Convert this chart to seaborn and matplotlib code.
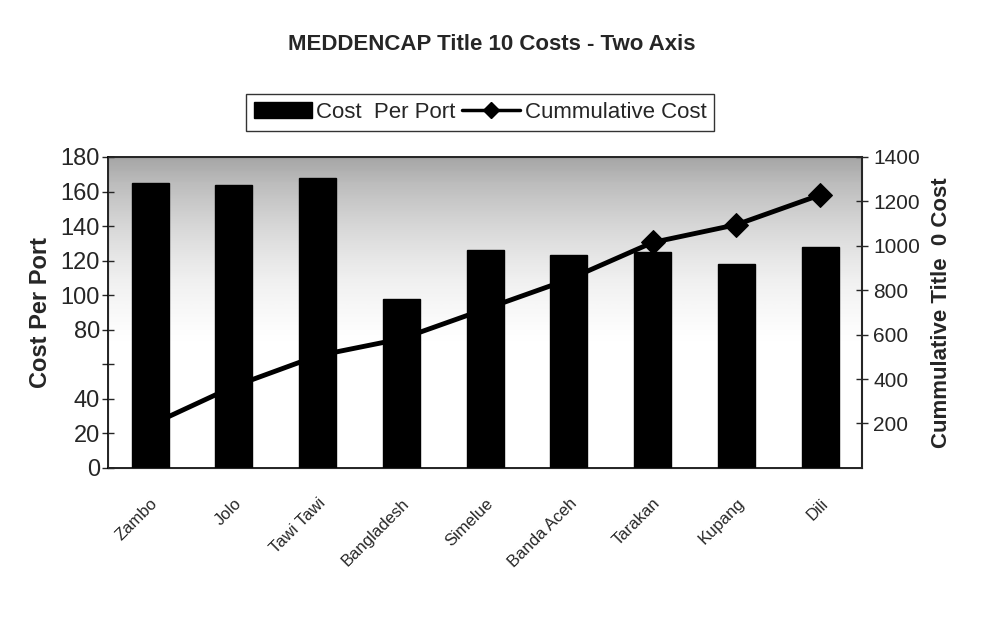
import numpy as np
import pandas as pd
import matplotlib
matplotlib.use('Agg')
import matplotlib.pyplot as plt
from matplotlib.patches import Patch
from matplotlib.lines import Line2D
import seaborn as sns

# Data
ports = ['Zambo', 'Jolo', 'Tawi Tawi', 'Bangladesh', 'Simelue',
         'Banda Aceh', 'Tarakan', 'Kupang', 'Dili']
cost_per_port = [165, 164, 168, 98, 126, 123, 125, 118, 128]
cumulative_cost = [192, 367, 505, 581, 715, 849, 1015, 1095, 1229]

left_ticks = [0, 20, 40, 60, 80, 100, 120, 140, 160, 180]
left_labels = ['0', '20', '40', '', '80', '100', '120', '140', '160', '180']
right_ticks = [200, 400, 600, 800, 1000, 1200, 1400]

df = pd.DataFrame({'Port': ports, 'Cost': cost_per_port, 'Cum': cumulative_cost})

sns.set_style('white')
plt.rcParams['font.family'] = ['Liberation Sans', 'DejaVu Sans']

fig = plt.figure(figsize=(9.84, 6.18), dpi=100)
ax = fig.add_axes([0.110, 0.243, 0.766, 0.503])

# speckled shading at the top of the plot area (drawn as a smooth gradient)
grad = np.linspace(1, 0, 200)[:, None]
grad = np.clip((grad - 0.4) / 0.6, 0, 1) ** 1.2 * 0.45
ax.imshow(grad, cmap='Greys', vmin=0, vmax=1, aspect='auto',
          extent=(-0.5, 8.5, 0, 180), zorder=0, interpolation='bilinear')

sns.barplot(data=df, x='Port', y='Cost', color='black', width=0.44,
            saturation=1, edgecolor='black', ax=ax, zorder=2)
ax.set_xlim(-0.5, 8.5)
ax.set_ylim(0, 180)
ax.set_yticks(left_ticks)
ax.set_yticklabels(left_labels, fontsize=17)
ax.set_ylabel('Cost Per Port', fontsize=17, fontweight='bold', labelpad=6)
ax.set_xlabel('')
ax.set_xticks(np.arange(-0.5, 9, 1), minor=False)
ax.set_xticklabels([])
ax.set_xticks(range(len(ports)), minor=True)
ax.set_xticklabels(ports, minor=True, rotation=45, ha='right',
                   rotation_mode='anchor', fontsize=12)
ax.tick_params(axis='x', which='minor', length=0, pad=20)
ax.tick_params(axis='x', which='major', direction='inout', length=8, width=1)
ax.tick_params(axis='y', direction='inout', length=8, width=1, pad=2)
for s in ax.spines.values():
    s.set_color('black')
    s.set_linewidth(1.2)

ax2 = ax.twinx()
sns.lineplot(x=list(range(len(ports))), y=cumulative_cost, color='black',
             linewidth=3.5, marker='D', markersize=12, markeredgecolor='black',
             sort=False, ax=ax2, zorder=3)
ax2.set_ylim(0, 1400)
ax2.set_yticks(right_ticks)
ax2.set_yticklabels([str(t) for t in right_ticks], fontsize=15)
ax2.tick_params(axis='y', direction='inout', length=8, width=1, pad=4)
ax2.set_ylabel('Cummulative Title  0 Cost', fontsize=16, fontweight='bold',
               labelpad=8)
ax2.spines['right'].set_linewidth(1.5)
ax2.set_xlim(-0.5, 8.5)

fig.suptitle('MEDDENCAP Title 10 Costs - Two Axis', fontsize=16,
             fontweight='bold', y=0.945)

handles = [Patch(facecolor='black', edgecolor='black', label='Cost  Per Port'),
           Line2D([0], [0], color='black', linewidth=2.5, marker='D',
                  markersize=8, label='Cummulative Cost')]
leg = fig.legend(handles=handles, loc='center', bbox_to_anchor=(0.488, 0.818),
                 ncol=2, frameon=True, fancybox=False, fontsize=16,
                 handlelength=2.6, columnspacing=0.3, handletextpad=0.2,
                 borderpad=0.35)
leg.get_frame().set_edgecolor('black')
leg.get_frame().set_linewidth(1.0)

fig.savefig('out.png', dpi=100)
